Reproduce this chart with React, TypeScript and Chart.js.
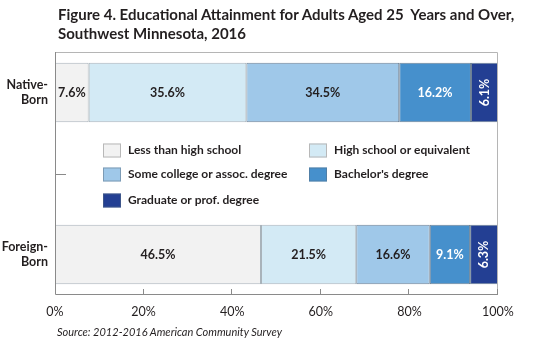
import React, { useEffect, useRef } from "react";
import { Chart, registerables } from "chart.js";

Chart.register(...registerables);

const categories: (string | string[])[] = [["Native-", "Born"], "", ["Foreign-", "Born"]];
const seriesNames = [
  "Less than high school",
  "High school or equivalent",
  "Some college or assoc. degree",
  "Bachelor's degree",
  "Graduate or prof. degree",
];
const lessThanHS = [7.6, null, 46.5];
const highSchool = [35.6, null, 21.5];
const someCollege = [34.5, null, 16.6];
const bachelors = [16.2, null, 9.1];
const graduate = [6.1, null, 6.3];
const xTicks = [0, 20, 40, 60, 80, 100];

const colors = ["#f2f2f2", "#d3eaf5", "#9fc8e9", "#4690cc", "#233f93"];
const labelColors = ["#231f20", "#231f20", "#231f20", "#ffffff", "#ffffff"];
const FONT = "Lato, 'Open Sans', sans-serif";

const overlayPlugin = {
  id: "overlay",
  afterDatasetsDraw(chart: any) {
    const { ctx, chartArea } = chart;
    const yScale = chart.scales.y;
    const xScale = chart.scales.x;
    ctx.save();
    // frame
    ctx.strokeStyle = "#b5b5b5";
    ctx.lineWidth = 1;
    ctx.beginPath();
    ctx.moveTo(chartArea.left, chartArea.top + 0.5);
    ctx.lineTo(chartArea.right - 0.5, chartArea.top + 0.5);
    ctx.lineTo(chartArea.right - 0.5, chartArea.bottom);
    ctx.stroke();
    ctx.strokeStyle = "#8a8a8a";
    ctx.beginPath();
    ctx.moveTo(chartArea.left + 0.5, chartArea.top);
    ctx.lineTo(chartArea.left + 0.5, chartArea.bottom - 0.5);
    ctx.lineTo(chartArea.right, chartArea.bottom - 0.5);
    ctx.stroke();
    // inward ticks
    const midY = yScale.getPixelForValue(1);
    ctx.beginPath();
    ctx.moveTo(chartArea.left, Math.round(midY) + 0.5);
    ctx.lineTo(chartArea.left + 11, Math.round(midY) + 0.5);
    xTicks.forEach((v) => {
      if (v === 0) return;
      const px = Math.round(xScale.getPixelForValue(v)) - 0.5;
      ctx.moveTo(px, chartArea.bottom);
      ctx.lineTo(px, chartArea.bottom - 6);
    });
    ctx.stroke();

    // value labels
    chart.data.datasets.forEach((ds: any, di: number) => {
      const meta = chart.getDatasetMeta(di);
      meta.data.forEach((bar: any, i: number) => {
        const v = ds.data[i];
        if (v == null) return;
        const x = (bar.x + bar.base) / 2;
        const y = bar.y;
        ctx.fillStyle = labelColors[di];
        ctx.font = `bold 12.5px ${FONT}`;
        ctx.textBaseline = "middle";
        ctx.textAlign = "center";
        const txt = v.toFixed(1) + "%";
        if (di === 4) {
          ctx.save();
          ctx.translate(x, y);
          ctx.rotate(-Math.PI / 2);
          ctx.fillText(txt, 0, 0);
          ctx.restore();
        } else {
          ctx.fillText(txt, x, y);
        }
      });
    });

    // legend
    const lx1 = chartArea.left + 48;
    const lx2 = chartArea.left + 254;
    const rows = [midY - 23, midY + 1, midY + 27];
    const pos = [
      [lx1, rows[0]],
      [lx2, rows[0]],
      [lx1, rows[1]],
      [lx2, rows[1]],
      [lx1, rows[2]],
    ];
    chart.data.datasets.forEach((ds: any, di: number) => {
      const [bx, by] = pos[di];
      ctx.fillStyle = colors[di];
      ctx.fillRect(bx, by - 7, 18, 14);
      ctx.strokeStyle = di < 2 ? "#b8b8b8" : "rgba(90,110,130,0.5)";
      ctx.strokeRect(bx + 0.5, by - 6.5, 17, 13);
      ctx.fillStyle = "#231f20";
      ctx.font = `bold 12px ${FONT}`;
      ctx.textAlign = "left";
      ctx.textBaseline = "middle";
      ctx.fillText(ds.label, bx + 25, by);
    });
    ctx.restore();
  },
};

export default function App() {
  const ref = useRef<HTMLCanvasElement>(null);
  useEffect(() => {
    const data = [lessThanHS, highSchool, someCollege, bachelors, graduate];
    const chart = new Chart(ref.current!, {
      type: "bar",
      data: {
        labels: categories,
        datasets: data.map((d, i) => ({
          label: seriesNames[i],
          data: d,
          backgroundColor: colors[i],
          borderColor: i < 2 ? "#a9b3ba" : "#6f8396",
          borderWidth: 1,
          borderSkipped: false,
          categoryPercentage: 1,
          barPercentage: 0.735,
        })),
      },
      options: {
        indexAxis: "y",
        responsive: false,
        animation: false,
        devicePixelRatio: 1,
        layout: { padding: { top: 52, right: 52, bottom: 13, left: 0 } },
        plugins: {
          legend: { display: false },
          tooltip: { enabled: false },
          title: { display: false },
        },
        scales: {
          x: {
            stacked: true,
            min: 0,
            max: 100,
            afterBuildTicks: (s: any) => {
              s.ticks = xTicks.map((v) => ({ value: v }));
            },
            ticks: {
              callback: (v: any) => v + "%",
              color: "#231f20",
              padding: 9,
              font: { family: FONT, size: 12.5 },
              maxRotation: 0,
            },
            grid: { display: false, drawTicks: false },
            border: { display: false },
          },
          y: {
            stacked: true,
            afterFit: (s: any) => {
              s.width = 55;
            },
            ticks: {
              color: "#231f20",
              padding: 7,
              font: { family: FONT, size: 12.5, weight: "bold" },
            },
            grid: { display: false, drawTicks: false },
            border: { display: false },
          },
        },
      },
      plugins: [overlayPlugin],
    });
    return () => chart.destroy();
  }, []);
  return (
    <div
      style={{
        position: "absolute",
        left: 0,
        top: 0,
        width: 550,
        height: 341,
        background: "#fff",
        fontFamily: FONT,
        color: "#231f20",
      }}
    >
      <canvas ref={ref} width={550} height={341} style={{ position: "absolute", left: 0, top: 0 }} />
      <div
        style={{
          position: "absolute",
          left: 58,
          top: 5,
          fontSize: 15,
          fontWeight: 700,
          lineHeight: "19px",
          whiteSpace: "pre",
        }}
      >
        {"Figure 4. Educational Attainment for Adults Aged 25  Years and Over,\nSouthwest Minnesota, 2016"}
      </div>
      <div
        style={{
          position: "absolute",
          left: 57,
          top: 325,
          fontSize: 11,
          fontStyle: "italic",
          lineHeight: "14px",
        }}
      >
        Source: 2012-2016 American Community Survey
      </div>
    </div>
  );
}
